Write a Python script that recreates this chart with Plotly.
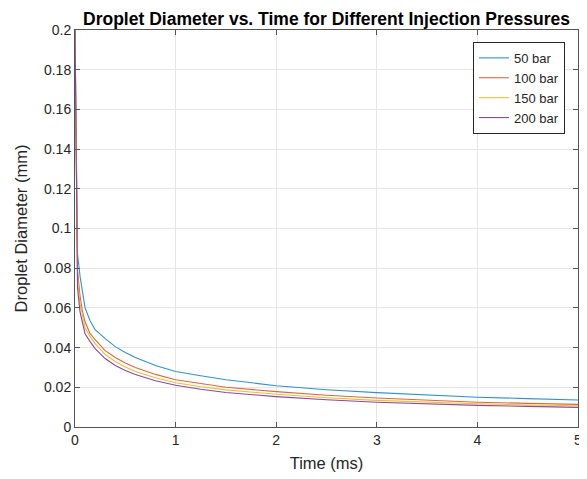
import plotly.graph_objects as go

# time samples (ms)
time_ms = [0, 0.025, 0.05, 0.075, 0.1, 0.15, 0.2, 0.3, 0.4, 0.5, 0.6, 0.8,
           1.0, 1.25, 1.5, 2.0, 2.5, 3.0, 3.5, 4.0, 4.5, 5.0]

# droplet diameter (mm)
d_50bar = [0.2, 0.087, 0.076, 0.067, 0.060, 0.0535, 0.049, 0.0445, 0.0405, 0.0375,
           0.0350, 0.0310, 0.0280, 0.0258, 0.0238, 0.0208, 0.0188, 0.0173, 0.0161,
           0.0150, 0.0143, 0.0136]
d_100bar = [0.2, 0.079, 0.066, 0.058, 0.053, 0.047, 0.044, 0.0385, 0.035, 0.0322,
            0.0300, 0.0265, 0.0238, 0.0218, 0.0200, 0.0178, 0.0160, 0.0146, 0.0135,
            0.0125, 0.0119, 0.0114]
d_150bar = [0.2, 0.075, 0.062, 0.055, 0.050, 0.0455, 0.042, 0.0365, 0.033, 0.0302,
            0.0280, 0.0248, 0.0223, 0.0203, 0.0187, 0.0165, 0.0147, 0.0134, 0.0125,
            0.0117, 0.0111, 0.0107]
d_200bar = [0.2, 0.070, 0.058, 0.052, 0.047, 0.0430, 0.0395, 0.0345, 0.031, 0.0285,
            0.0265, 0.0233, 0.0210, 0.0190, 0.0174, 0.0153, 0.0137, 0.0125, 0.0116,
            0.0109, 0.0104, 0.0099]

labels = ['50 bar', '100 bar', '150 bar', '200 bar']
series = [d_50bar, d_100bar, d_150bar, d_200bar]
colors = ['#2e93d1', '#dd6a3a', '#efbc3c', '#8a4a9a']

FONT = 'Arial, Liberation Sans, sans-serif'

fig = go.Figure()

for name, vals, col in zip(labels, series, colors):
    fig.add_trace(go.Scatter(
        x=time_ms,
        y=vals,
        mode='lines',
        line=dict(color=col, width=1.1),
        name=name
    ))

axis_style = dict(
    automargin=False,
    showline=True,
    linecolor='#555555',
    linewidth=1,
    mirror='allticks',
    ticks='inside',
    ticklen=5,
    tickcolor='#555555',
    showgrid=True,
    gridcolor='#e6e6e6',
    gridwidth=1,
    zeroline=False,
    tickfont=dict(family=FONT, size=14, color='#262626'),
)

fig.update_xaxes(range=[0, 5], dtick=1,
                 title=dict(text='Time (ms)', font=dict(family=FONT, size=16.5, color='#262626'),
                            standoff=10),
                 **axis_style)
fig.update_yaxes(range=[0, 0.2], dtick=0.02,
                 title=dict(text='Droplet Diameter (mm)',
                            font=dict(family=FONT, size=16.5, color='#262626'), standoff=12),
                 **axis_style)

# page body adds an 8px offset, so the figure is sized to fit the window
fig.update_layout(
    width=579,
    height=471,
    margin=dict(l=67, r=9, t=22, b=52),
    paper_bgcolor='white',
    plot_bgcolor='white',
    title=dict(
        text='<b>Droplet Diameter vs. Time for Different Injection Pressures</b>',
        font=dict(family=FONT, size=17.5, color='black'),
        xref='paper', x=0.5, xanchor='center',
        yref='container', y=0.977, yanchor='middle'
    ),
    legend=dict(
        x=0.974, xanchor='right', y=0.97, yanchor='top',
        bgcolor='white', bordercolor='#262626', borderwidth=1,
        font=dict(family=FONT, size=13, color='#262626'),
        tracegroupgap=0
    ),
    showlegend=True
)

fig.write_html("out.html")
